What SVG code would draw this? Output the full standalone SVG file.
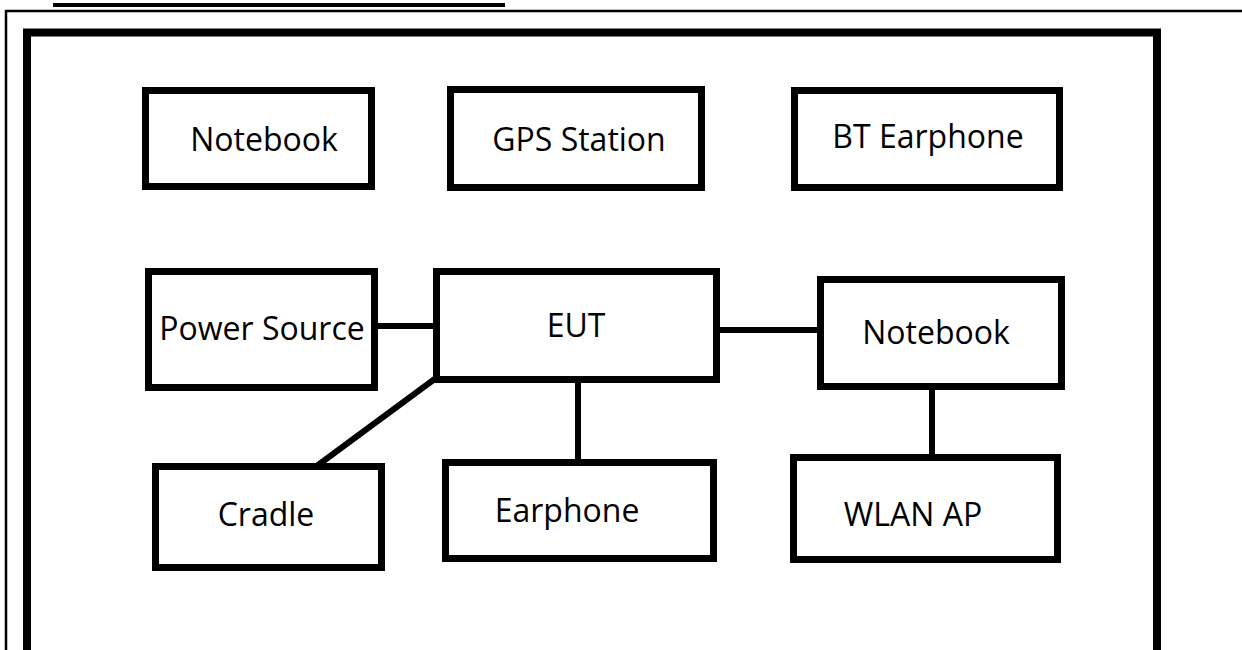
<svg xmlns="http://www.w3.org/2000/svg" width="1242" height="650" viewBox="0 0 1242 650">
<style>
.box{fill:#fff;stroke:#000;stroke-width:7}
.lbl{font-family:"Open Sans","Noto Sans","Liberation Sans",sans-serif;font-size:32px;fill:#000;text-anchor:middle}
.conn line{stroke:#000;stroke-width:6;stroke-linecap:round}
</style>
<rect width="1242" height="650" fill="#fff"/>
<g id="page">
<rect x="53" y="3" width="452" height="4" fill="#000"/>
<line x1="5" y1="11" x2="1242" y2="11" stroke="#000" stroke-width="2.5"/>
<line x1="6" y1="10" x2="6" y2="650" stroke="#000" stroke-width="2.5"/>
<rect x="27" y="32.5" width="1130" height="640" fill="none" stroke="#000" stroke-width="8"/>
</g>
<g id="connectors" class="conn">
<line x1="372" y1="326" x2="437" y2="326"/>
<line x1="720" y1="330" x2="825" y2="330"/>
<line x1="436" y1="378" x2="314" y2="468"/>
<line x1="578" y1="378" x2="578" y2="470"/>
<line x1="932" y1="383" x2="932" y2="465"/>
</g>
<g id="notebook-top"><rect class="box" x="145.5" y="90.5" width="226" height="96"/><text class="lbl" x="264" y="151">Notebook</text></g>
<g id="gps-station"><rect class="box" x="450.5" y="89.5" width="251" height="98"/><text class="lbl" x="579" y="151">GPS Station</text></g>
<g id="bt-earphone"><rect class="box" x="794.5" y="90.5" width="265" height="97"/><text class="lbl" x="928" y="148">BT Earphone</text></g>
<g id="power-source"><rect class="box" x="148.5" y="271.5" width="226" height="116"/><text class="lbl" x="262" y="340">Power Source</text></g>
<g id="eut"><rect class="box" x="436.5" y="271.5" width="280" height="108"/><text class="lbl" x="576" y="337">EUT</text></g>
<g id="notebook-right"><rect class="box" x="820.5" y="279.5" width="241" height="107"/><text class="lbl" x="936" y="344">Notebook</text></g>
<g id="cradle"><rect class="box" x="155.5" y="466.5" width="226" height="101"/><text class="lbl" x="266" y="526">Cradle</text></g>
<g id="earphone"><rect class="box" x="445.5" y="462.5" width="268" height="96"/><text class="lbl" x="567" y="522">Earphone</text></g>
<g id="wlan-ap"><rect class="box" x="793.5" y="457.5" width="264" height="102"/><text class="lbl" x="913" y="526">WLAN AP</text></g>
</svg>
